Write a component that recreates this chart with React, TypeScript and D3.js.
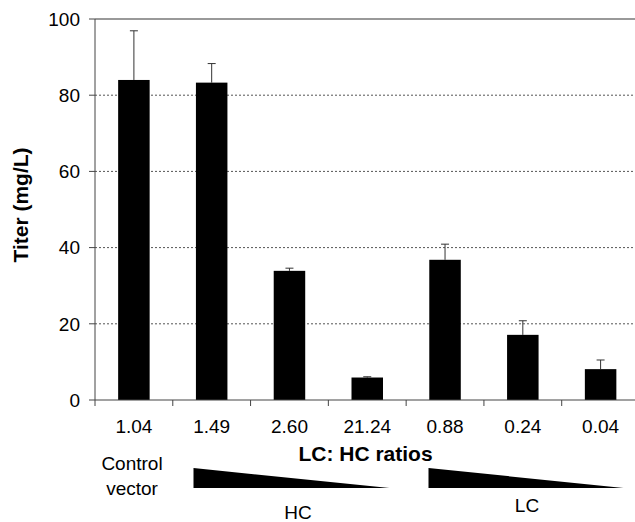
import React from 'react';
import * as d3 from 'd3';

// LC:HC ratios on the x axis
const ratios = ['1.04', '1.49', '2.60', '21.24', '0.88', '0.24', '0.04'];
// titer means (mg/L)
const titers = [84.0, 83.3, 33.9, 5.9, 36.8, 17.1, 8.1];
// upper end of the error bars
const errTops = [96.9, 88.3, 34.6, 6.1, 40.9, 20.8, 10.5];
const yTicks = [0, 20, 40, 60, 80, 100];

const W = 635, H = 522;
const font = 'Liberation Sans, Arial, sans-serif';

const App = () => {
  const x = d3.scaleBand().domain(ratios).range([95, 639.5]).paddingInner(0).paddingOuter(0);
  const y = d3.scaleLinear().domain([0, 100]).range([400, 19]);
  const bw = 31.5;
  const cx = (r: string) => (x(r) as number) + x.bandwidth() / 2;

  // gradient wedges under the x axis
  const wedge = (x0: number, x1: number) =>
    d3.line()([[x0, 468], [x1, 488], [x0, 488]]) + 'Z';

  return (
    <svg width={W} height={H} style={{ position: 'absolute', left: 0, top: 0, background: '#fff' }}>
      {/* grid lines */}
      {yTicks.filter(t => t > 0 && t < 100).map(t => (
        <line key={t} x1={95} x2={W} y1={y(t)} y2={y(t)} stroke="#555" strokeWidth={1} strokeDasharray="2,2" />
      ))}
      {/* top border */}
      <line x1={95} x2={W} y1={y(100)} y2={y(100)} stroke="#777" strokeWidth={1.5} />

      {/* bars */}
      {ratios.map((r, i) => (
        <g key={r}>
          <line x1={cx(r)} x2={cx(r)} y1={y(titers[i])} y2={y(errTops[i])} stroke="#333" strokeWidth={1} />
          <line x1={cx(r) - 4} x2={cx(r) + 4} y1={y(errTops[i])} y2={y(errTops[i])} stroke="#333" strokeWidth={1} />
          <rect x={cx(r) - bw / 2} y={y(titers[i])} width={bw} height={y(0) - y(titers[i])} fill="#000" />
        </g>
      ))}

      {/* y axis */}
      <line x1={95} x2={95} y1={y(100)} y2={y(0)} stroke="#444" strokeWidth={1} />
      {yTicks.map(t => (
        <g key={t}>
          <line x1={89} x2={95} y1={y(t)} y2={y(t)} stroke="#444" strokeWidth={1} />
          <text x={80} y={y(t)} dy="0.36em" textAnchor="end" fontFamily={font} fontSize={19} fill="#000">{t}</text>
        </g>
      ))}

      {/* x axis */}
      <line x1={95} x2={W} y1={y(0)} y2={y(0)} stroke="#444" strokeWidth={1} />
      {ratios.map(r => (
        <line key={r} x1={x(r) as number} x2={x(r) as number} y1={400} y2={406} stroke="#444" strokeWidth={1} />
      ))}
      {ratios.map(r => (
        <text key={r} x={cx(r)} y={433} textAnchor="middle" fontFamily={font} fontSize={19} fill="#000">{r}</text>
      ))}

      <text x={365.5} y={461} textAnchor="middle" fontFamily={font} fontSize={21} fontWeight="bold">LC: HC ratios</text>
      <text transform="translate(28,205) rotate(-90)" textAnchor="middle" fontFamily={font} fontSize={21} fontWeight="bold">Titer (mg/L)</text>

      <text x={132} y={470} textAnchor="middle" fontFamily={font} fontSize={19}>Control</text>
      <text x={132} y={495} textAnchor="middle" fontFamily={font} fontSize={19}>vector</text>

      <path d={wedge(193.5, 389.5)} fill="#000" />
      <path d={wedge(428.5, 623.5)} fill="#000" />
      <text x={298} y={519} textAnchor="middle" fontFamily={font} fontSize={19}>HC</text>
      <text x={527} y={512} textAnchor="middle" fontFamily={font} fontSize={19}>LC</text>
    </svg>
  );
};

export default App;
